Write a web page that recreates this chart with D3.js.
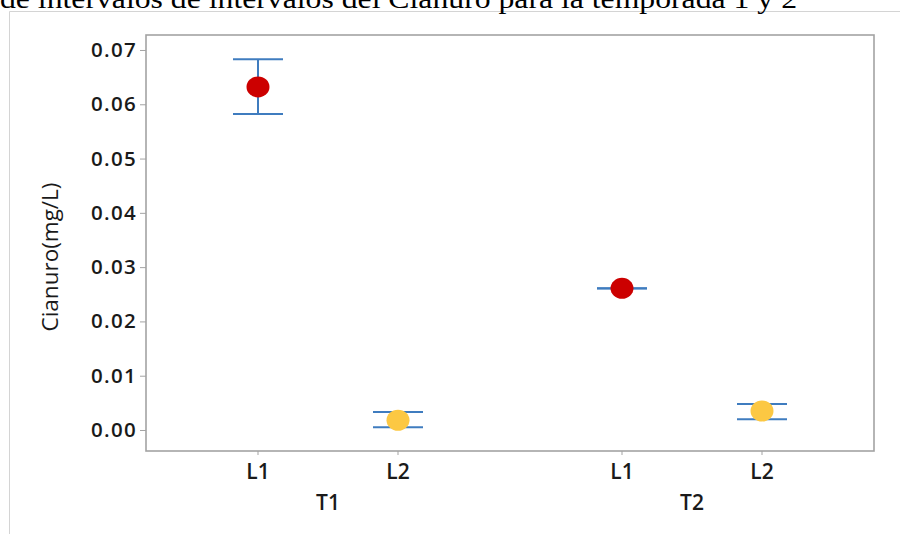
<!DOCTYPE html>
<html>
<head>
<meta charset="utf-8">
<script src="https://cdn.jsdelivr.net/npm/d3@7"></script>
<style>
  html, body { margin: 0; padding: 0; background: #fff; }
  svg { display: block; }
</style>
</head>
<body>
<svg id="chart" width="900" height="534"></svg>
<script>
// ---- data ----
const titleText = "de intervalos de intervalos del Cianuro para la temporada 1 y 2";
const groups = ["T1", "T2"];
const levels = ["L1", "L2"];
const pointGroup = ["T1", "T1", "T2", "T2"];
const pointLevel = ["L1", "L2", "L1", "L2"];
const means = [0.0632, 0.0018, 0.0261, 0.0035];
const lowers = [0.0582, 0.0005, 0.02608, 0.0020];
const uppers = [0.0683, 0.0033, 0.02612, 0.0048];
const yTicks = [0, 0.01, 0.02, 0.03, 0.04, 0.05, 0.06, 0.07];
const yTitle = "Cianuro(mg/L)";
const levelColors = { L1: "#cc0000", L2: "#fcc843" };

// ---- layout ----
const svg = d3.select("#chart");
const frame = { left: 146, top: 35, right: 874, bottom: 451 };

// outer light frame
svg.append("line").attr("x1", 9.5).attr("x2", 900).attr("y1", 11.5).attr("y2", 11.5)
  .attr("stroke", "#d4d4d4").attr("stroke-width", 1);
svg.append("line").attr("x1", 9.5).attr("x2", 9.5).attr("y1", 11.5).attr("y2", 534)
  .attr("stroke", "#d4d4d4").attr("stroke-width", 1);

// clipped title (cut off at the top, as in the source)
svg.append("text")
  .attr("x", 0).attr("y", 8)
  .attr("textLength", 797).attr("lengthAdjust", "spacingAndGlyphs")
  .style("font-family", "'Liberation Serif', 'Times New Roman', serif")
  .style("font-size", "27px")
  .attr("fill", "#000")
  .text(titleText);

// scales
const y = d3.scaleLinear().domain([-0.00387, 0.07276]).range([frame.bottom, frame.top]);
const xGroup = d3.scalePoint().domain(groups).range([frame.left, frame.right]).padding(0.5);
const xLevel = d3.scalePoint().domain(levels).range([-70, 70]);
const xPos = (g, l) => xGroup(g) + xLevel(l);

// plot frame
svg.append("rect")
  .attr("x", frame.left).attr("y", frame.top)
  .attr("width", frame.right - frame.left).attr("height", frame.bottom - frame.top)
  .attr("fill", "none").attr("stroke", "#a3a3a3").attr("stroke-width", 1.6);

// y axis
const yAxis = d3.axisLeft(y).tickValues(yTicks).tickFormat(d3.format(".2f")).tickSize(6).tickPadding(3);
const gy = svg.append("g").attr("transform", `translate(${frame.left},0)`).call(yAxis);
gy.select(".domain").remove();
gy.selectAll(".tick line").attr("stroke", "#a3a3a3");
gy.selectAll(".tick text")
  .style("font-family", "'Open Sans', sans-serif")
  .style("font-weight", 600)
  .style("font-size", "20.5px")
  .style("letter-spacing", "1.3px")
  .attr("fill", "#1a1a1a");

// x axis (level ticks)
const idx = d3.range(means.length);
const gx = svg.append("g");
gx.selectAll("line.xt").data(idx).join("line")
  .attr("class", "xt")
  .attr("x1", i => xPos(pointGroup[i], pointLevel[i]))
  .attr("x2", i => xPos(pointGroup[i], pointLevel[i]))
  .attr("y1", frame.bottom).attr("y2", frame.bottom + 4)
  .attr("stroke", "#a3a3a3");
gx.selectAll("text.lvl").data(idx).join("text")
  .attr("class", "lvl")
  .attr("x", i => xPos(pointGroup[i], pointLevel[i]))
  .attr("y", 479)
  .attr("text-anchor", "middle")
  .style("font-family", "'Open Sans', sans-serif")
  .style("font-weight", 600)
  .style("font-size", "21px")
  .attr("fill", "#1a1a1a")
  .text(i => pointLevel[i]);
gx.selectAll("text.grp").data(groups).join("text")
  .attr("class", "grp")
  .attr("x", d => xGroup(d))
  .attr("y", 510)
  .attr("text-anchor", "middle")
  .style("font-family", "'Open Sans', sans-serif")
  .style("font-weight", 600)
  .style("font-size", "21px")
  .attr("fill", "#1a1a1a")
  .text(d => d);

// y title
svg.append("text")
  .attr("transform", `translate(58,257) rotate(-90)`)
  .attr("text-anchor", "middle")
  .style("font-family", "'Open Sans', sans-serif")
  .style("font-weight", 400)
  .style("font-size", "22.5px")
  .attr("fill", "#1a1a1a")
  .text(yTitle);

// interval bars
const barColor = "#3f7cbf";
const capHalf = 25;
const bars = svg.append("g");
idx.forEach(i => {
  const cx = xPos(pointGroup[i], pointLevel[i]);
  bars.append("line").attr("x1", cx).attr("x2", cx)
    .attr("y1", y(uppers[i])).attr("y2", y(lowers[i]))
    .attr("stroke", barColor).attr("stroke-width", 2);
  [uppers[i], lowers[i]].forEach(v => {
    bars.append("line").attr("x1", cx - capHalf).attr("x2", cx + capHalf)
      .attr("y1", y(v)).attr("y2", y(v))
      .attr("stroke", barColor).attr("stroke-width", 2);
  });
});

// mean symbols
svg.append("g").selectAll("ellipse").data(idx).join("ellipse")
  .attr("cx", i => xPos(pointGroup[i], pointLevel[i]))
  .attr("cy", i => y(means[i]))
  .attr("rx", 11.5).attr("ry", 10.5)
  .attr("fill", i => levelColors[pointLevel[i]]);
</script>
</body>
</html>
